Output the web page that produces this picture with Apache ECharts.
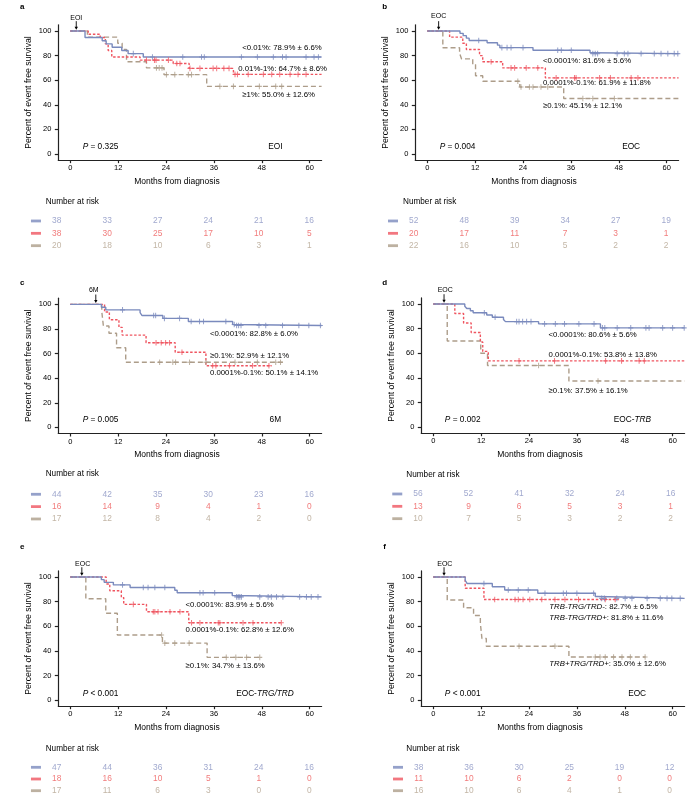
<!DOCTYPE html>
<html>
<head>
<meta charset="utf-8">
<script src="https://cdn.jsdelivr.net/npm/echarts@6/dist/echarts.min.js"></script>
<style>html,body{margin:0;padding:0;background:#fff}#main{width:697px;height:809px}</style>
</head>
<body>
<div id="main"></div>
<script>
// ---- data ----
var ticksX = [0, 12, 24, 36, 48, 60];
var ticksY = [0, 20, 40, 60, 80, 100];
var riskCols = ['0', '12', '24', '36', '48', '60'];

// a: EOI
var aBlue = [[0,100],[3.7,94.7],[8.0,92.1],[9.0,89.5],[10.5,86.8],[12.9,84.2],[14.5,81.6],[18.3,78.9],[63,78.9]];
var aRed = [[0,100],[4.5,97.4],[7.5,94.7],[8.8,89.5],[9.5,84.2],[10.4,78.9],[17.5,76.3],[25.8,73.6],[29.8,69.6],[40.9,64.7],[63,64.7]];
var aBrown = [[0,100],[4.3,95],[11.9,90],[13,85],[14.1,75],[19.1,70],[23.5,64.5],[34.2,55],[63,55]];
var aBlueCens = [15.8,20.6,28.2,32.9,33.6,42.9,46.9,50.9,53.2,54.1,59.1,61.1,62.2];
var aRedCens = [19.1,21.1,21.5,24.6,26.7,27.5,30,32.5,35.8,36.7,38.5,39.8,41.3,41.9,44.6,48.4,50.5,52.5,55.1,57.1,59.1];
var aBrownCens = [21.6,22.3,23.0,24.1,26.2,29.6,30.4,37.5,40.9,47.4,51.5,53];
var aRisk = [[38,33,27,24,21,16],[38,30,25,17,10,5],[20,18,10,6,3,1]];
var aLabels = ['<0.01%: 78.9% ± 6.6%', '0.01%-1%: 64.7% ± 8.6%', '≥1%: 55.0% ± 12.6%'];

// b: EOC
var bBlue = [[0,100],[8.2,98.1],[9.0,96.2],[9.8,94.2],[10.5,92.3],[15,90.4],[17.6,88.5],[18.2,86.5],[26.5,84.4],[40.8,82.3],[41.5,81.6],[63,81.6]];
var bRed = [[0,100],[5.6,95],[8.9,90],[9.8,85],[13.1,80],[13.9,75],[18.9,70],[29.6,61.9],[63,61.9]];
var bBrown = [[0,100],[3.9,86.4],[8.1,81.8],[8.6,77.3],[11.4,72.7],[12.1,63.6],[13.9,59.1],[23.2,54.5],[34.2,45.1],[63,45.1]];
var bBlueCens = [12.9,18.7,20,21,24,32.7,33.6,36.1,41.5,42.1,42.7,47.6,49.4,50.3,53.6,56.9,58.6,60.3,61.9,62.8];
var bRedCens = [16,21,21.9,24.8,27.7,32.3,36.9,37.3,43.2,45.9,51.1,52.8];
var bBrownCens = [22.7,23.5,25.6,26.5,28.5,30.2,39,41.5,46.9];
var bRisk = [[52,48,39,34,27,19],[20,17,11,7,3,1],[22,16,10,5,2,2]];
var bLabels = ['<0.0001%: 81.6% ± 5.6%', '0.0001%-0.1%: 61.9% ± 11.8%', '≥0.1%: 45.1% ± 12.1%'];

// c: 6M
var cBlue = [[0,100],[7.8,97.7],[8.9,95.5],[17.5,93.2],[18.0,90.9],[23.2,88.6],[29.6,86.1],[40.7,83.6],[41.2,82.8],[63,82.8]];
var cRed = [[0,100],[8.6,93.8],[9.8,87.5],[12.2,81.3],[13,75],[19,68.8],[26.3,61.1],[34,50.1],[50.5,50.1]];
var cBrown = [[0,100],[7.9,94.1],[8.3,82.4],[9.7,76.5],[11.6,64.7],[13.9,52.9],[53.5,52.9]];
var cBlueCens = [13.1,20.9,21.4,23.6,27.4,30.3,32.4,33.4,39,41.1,41.7,42.2,42.8,47.3,49,53.2,57.3,59.8,62.7];
var cRedCens = [21.5,22.8,23.9,24.9,28,35.7,36.5,39.9,45.7,49.8];
var cBrownCens = [22.4,25.7,26.4,29.9,34,41.3,46.9,51.5,52.7];
var cRisk = [[44,42,35,30,23,16],[16,14,9,4,1,0],[17,12,8,4,2,0]];
var cLabels = ['<0.0001%: 82.8% ± 6.0%', '≥0.1%: 52.9% ± 12.1%', '0.0001%-0.1%: 50.1% ± 14.1%'];

// d: EOC-TRB
var dBlue = [[0,100],[7.9,98.2],[8.4,96.4],[9.3,94.6],[10,92.9],[13.4,91.1],[14.8,89.3],[17.6,87.5],[18.1,85.7],[26.4,83.9],[41.9,80.6],[63,80.6]];
var dRed = [[0,100],[5.4,92.3],[7.6,84.6],[9.5,76.9],[11.8,69.2],[12.4,61.5],[13.8,53.8],[63,53.8]];
var dBrown = [[0,100],[3.5,70],[11.9,60],[13.6,50],[34,37.5],[63,37.5]];
var dBlueCens = [12.8,15.5,20.9,21.5,22.4,23.4,24.5,27.9,30.6,32.9,36.5,40.3,42.4,43,46.1,49.5,53.3,54.1,57.5,60,62.9];
var dRedCens = [21.5,30.4,43.2,47.2,51.6,52.9];
var dBrownCens = [26.4,41.3];
var dRisk = [[56,52,41,32,24,16],[13,9,6,5,3,1],[10,7,5,3,2,2]];
var dLabels = ['<0.0001%: 80.6% ± 5.6%', '0.0001%-0.1%: 53.8% ± 13.8%', '≥0.1%: 37.5% ± 16.1%'];

// e: EOC-TRG/TRD
var eBlue = [[0,100],[7.8,97.9],[8.5,95.7],[10.8,93.6],[15,91.5],[26.2,89.3],[26.8,87.2],[40.6,85],[41,83.9],[63,83.9]];
var eRed = [[0,100],[9.0,94.4],[9.9,88.9],[12.8,83.3],[13.4,77.8],[19.1,71.8],[29.7,62.8],[53.2,62.8]];
var eBrown = [[0,100],[3.9,82.4],[8.9,70.6],[11.8,52.9],[23.1,46.3],[34.3,34.7],[48,34.7]];
var eBlueCens = [13.1,18.3,19.5,21.2,23.7,32.5,33.3,36.2,41.7,42.1,42.5,42.9,47.5,49.6,50.4,51.7,53.3,57.5,59.2,60.4,62.1];
var eRedCens = [15.8,20.8,21.2,22,25,27.5,30.4,32.5,37.1,37.5,43.3,45.8,52.9];
var eBrownCens = [22.9,23.7,26.2,29.8,39.1,41.5,44.2,47.5];
var eRisk = [[47,44,36,31,24,16],[18,16,10,5,1,0],[17,11,6,3,0,0]];
var eLabels = ['<0.0001%: 83.9% ± 5.6%', '0.0001%-0.1%: 62.8% ± 12.6%', '≥0.1%: 34.7% ± 13.6%'];

// f: EOC, TRB / TRG/TRD
var fBlue = [[0,100],[8,97.4],[8.5,94.7],[14.8,92.1],[17.9,89.5],[26.2,86.8],[40.6,84.2],[41.2,82.7],[63,82.7]];
var fRed = [[0,100],[8,90.9],[12.7,81.8],[46.5,81.8]];
var fBrown = [[0,100],[3.5,81.3],[7.6,75],[10.1,68.8],[11.8,62.5],[12.2,50],[13.3,43.8],[34,35],[53.2,35]];
var fBlueCens = [12.7,18.8,21.3,23.8,28,32.6,33.4,36,40.2,42.2,42.9,46,48.1,49.8,53.6,56.9,58.6,59.8,61.9];
var fRedCens = [15.4,20.5,21.3,22.5,24.2,27.2,30.5,33,36.4,43.1,45.6];
var fBrownCens = [21.5,30.5,40.6,41.8,43.1,45.2,47.3,49.4,53.1];
var fRisk = [[38,36,30,25,19,12],[11,10,6,2,0,0],[16,10,6,4,1,0]];
var fLabels = ['{i|TRB-TRG/TRD-}: 82.7% ± 6.5%', '{i|TRB-TRG/TRD+}: 81.8% ± 11.6%', '{i|TRB+TRG/TRD+}: 35.0% ± 12.6%'];

var panels = [
  {id:'a', curves:[aBlue,aRed,aBrown], cens:[aBlueCens,aRedCens,aBrownCens], risk:aRisk, labels:aLabels, p:'= 0.325', tag:'EOI', mark:'EOI'},
  {id:'b', curves:[bBlue,bRed,bBrown], cens:[bBlueCens,bRedCens,bBrownCens], risk:bRisk, labels:bLabels, p:'= 0.004', tag:'EOC', mark:'EOC'},
  {id:'c', curves:[cBlue,cRed,cBrown], cens:[cBlueCens,cRedCens,cBrownCens], risk:cRisk, labels:cLabels, p:'= 0.005', tag:'6M', mark:'6M'},
  {id:'d', curves:[dBlue,dRed,dBrown], cens:[dBlueCens,dRedCens,dBrownCens], risk:dRisk, labels:dLabels, p:'= 0.002', tag:'EOC-{i|TRB}', mark:'EOC'},
  {id:'e', curves:[eBlue,eRed,eBrown], cens:[eBlueCens,eRedCens,eBrownCens], risk:eRisk, labels:eLabels, p:'< 0.001', tag:'EOC-{i|TRG/TRD}', mark:'EOC'},
  {id:'f', curves:[fBlue,fRed,fBrown], cens:[fBlueCens,fRedCens,fBrownCens], risk:fRisk, labels:fLabels, p:'< 0.001', tag:'EOC', mark:'EOC'}
];

// ---- layout (pixels / data coords for annotations) ----
var layout = [
  {grid:[58.3,24.85], risk:[31.4,214.8,303.1,37.05], nar:[45.7,202], letter:[22.3,6.7], mark:[1.5,1.5,110.8], ann:[[43.1,86.4],[42.1,68.9],[43.1,48]], p:[3.1,5.9], tag:[51.4,5.9]},
  {grid:[415.3,24.85], risk:[388.45,214.8,303,37.05], nar:[403,202], letter:[384.7,6.7], mark:[2.85,2.85,112], ann:[[29,75.9],[29,57.5],[29,39]], p:[3.1,5.9], tag:[51.1,5.9]},
  {grid:[58.3,298.2], risk:[31.4,488.1,303.1,37.05], nar:[45.7,474], letter:[22.3,282.7], mark:[6.4,5.9,111.6], ann:[[35,76.4],[35,58],[35,44.4]], p:[3.1,5.9], tag:[51.4,5.9]},
  {grid:[421.3,297.9], risk:[392.7,487.8,303.2,37.05], nar:[406.3,475], letter:[384.7,282.7], mark:[2.7,3.0,111.6], ann:[[28.9,74.8],[28.9,58.5],[28.9,29.5]], p:[2.9,5.9], tag:[49.9,5.9]},
  {grid:[58.3,570.9], risk:[31.4,761.45,303.1,35.1], nar:[45.7,748.3], letter:[22.3,546.7], mark:[2.9,3.1,110.6], ann:[[28.9,77.8],[28.9,56.9],[28.9,27.9]], p:[3.1,5.4], tag:[48.8,5.4]},
  {grid:[421.3,570.9], risk:[393.6,761.45,301.2,35.1], nar:[406.3,748.3], letter:[384.7,546.7], mark:[2.7,2.9,110.6], ann:[[29.1,75.9],[29.1,67.2],[29.1,29.8]], p:[2.9,5.4], tag:[51.1,5.4]}
];

var FONT = 'Liberation Sans, Arial, sans-serif';
var INK = '#000';
var lineCol = ['#7a8abd', '#ef5560', '#ad9d8a'];
var numCol = ['#8892c2', '#ee5a5a', '#b3a38f'];
var dashes = ['solid', [2.5, 1.8], [5, 3]];
var PLUS = 'path://M0.8,0H1.2V0.8H2V1.2H1.2V2H0.8V1.2H0V0.8H0.8Z';

function survAt(curve, t) {
  var s = curve[0][1];
  for (var i = 0; i < curve.length; i++) {
    if (curve[i][0] <= t) s = curve[i][1];
  }
  return s;
}

var grids = [], xAxes = [], yAxes = [], series = [];
var axisLineStyle = {color: '#222', width: 1.2};

panels.forEach(function (pn, p) {
  var L = layout[p];
  grids[p] = {left: L.grid[0], top: L.grid[1], width: 263.3, height: 135.3};
  grids[6 + p] = {left: L.risk[0], top: L.risk[1], width: L.risk[2], height: L.risk[3]};

  xAxes[p] = {
    type: 'value', gridIndex: p, min: -3, max: 63,
    name: 'Months from diagnosis', nameLocation: 'middle', nameGap: 17,
    nameTextStyle: {fontSize: 8.5, color: INK, fontFamily: FONT, padding: [0, 26, 0, 0]},
    axisLine: {show: true, onZero: false, lineStyle: axisLineStyle},
    axisTick: {show: true, length: 3, customValues: ticksX, lineStyle: axisLineStyle},
    axisLabel: {customValues: ticksX, fontSize: 7.5, margin: 4, color: INK, fontFamily: FONT},
    splitLine: {show: false}
  };
  yAxes[p] = {
    type: 'value', gridIndex: p, min: -5, max: 105,
    name: 'Percent of event free survival', nameLocation: 'middle', nameGap: 25,
    nameTextStyle: {fontSize: 8.7, color: INK, fontFamily: FONT},
    axisLine: {show: true, onZero: false, lineStyle: axisLineStyle},
    axisTick: {show: true, length: 3.5, customValues: ticksY, lineStyle: axisLineStyle},
    axisLabel: {customValues: ticksY, fontSize: 7.5, margin: 7, color: INK, fontFamily: FONT},
    splitLine: {show: false}
  };
  xAxes[6 + p] = {type: 'category', gridIndex: 6 + p, data: riskCols, show: false};
  yAxes[6 + p] = {type: 'category', gridIndex: 6 + p, data: ['0', '1', '2'], inverse: true, show: false};

  // curves: brown below, blue on top
  [2, 1, 0].forEach(function (k) {
    var curve = pn.curves[k];
    series.push({
      type: 'line', xAxisIndex: p, yAxisIndex: p, data: curve, step: 'end',
      symbol: 'none', z: 3 - k,
      lineStyle: {color: lineCol[k], width: 1.4, type: dashes[k]}
    });
    series.push({
      type: 'scatter', xAxisIndex: p, yAxisIndex: p, z: 4 - k,
      data: pn.cens[k].map(function (t) { return [t, survAt(curve, t)]; }),
      symbol: PLUS, symbolSize: [5, 5.6], itemStyle: {color: lineCol[k]}
    });
  });

  // number at risk table
  pn.risk.forEach(function (row, r) {
    series.push({
      type: 'scatter', xAxisIndex: 6 + p, yAxisIndex: 6 + p,
      data: row.map(function (v, i) { return [i, r, v]; }),
      symbolSize: 1, itemStyle: {color: 'transparent'},
      label: {show: true, position: 'inside', formatter: function (d) { return d.value[2]; },
              color: numCol[r], fontSize: 8.4, fontFamily: FONT}
    });
    series.push({
      type: 'scatter', xAxisIndex: 6 + p, yAxisIndex: 6 + p,
      data: [[0, r]], symbol: 'rect', symbolSize: [10, 2.8], symbolOffset: [-20.7, 0],
      itemStyle: {color: lineCol[r]}
    });
  });
});

var chart = echarts.init(document.getElementById('main'));
chart.setOption({
  animation: false,
  backgroundColor: '#fff',
  textStyle: {fontFamily: FONT},
  grid: grids, xAxis: xAxes, yAxis: yAxes, series: series
});

// annotations placed through the grid coordinate systems
var ital = {i: {fontStyle: 'italic', fontFamily: FONT, fontSize: 7.8, fill: INK}};
var italBig = {i: {fontStyle: 'italic', fontFamily: FONT, fontSize: 8.3, fill: INK}};
var graphics = [];
panels.forEach(function (pn, p) {
  var L = layout[p];
  var px = function (x, y) { return chart.convertToPixel({gridIndex: p}, [x, y]); };

  graphics.push({type: 'text', x: L.letter[0], y: L.letter[1],
    style: {text: pn.id, fontSize: 8, fontWeight: 'bold', fontFamily: FONT, fill: INK, align: 'center', verticalAlign: 'middle'}});
  graphics.push({type: 'text', x: L.nar[0], y: L.nar[1],
    style: {text: 'Number at risk', fontSize: 8.2, fontFamily: FONT, fill: INK, align: 'left', verticalAlign: 'middle'}});

  pn.labels.forEach(function (t, k) {
    var q = px(L.ann[k][0], L.ann[k][1]);
    graphics.push({type: 'text', x: q[0], y: q[1],
      style: {text: t, rich: ital, fontSize: 7.8, fontFamily: FONT, fill: INK, align: 'left', verticalAlign: 'middle'}});
  });

  var pp = px(L.p[0], L.p[1]);
  graphics.push({type: 'text', x: pp[0], y: pp[1],
    style: {text: '{i|P} ' + pn.p, rich: italBig, fontSize: 8.3, fontFamily: FONT, fill: INK, align: 'left', verticalAlign: 'middle'}});
  var tg = px(L.tag[0], L.tag[1]);
  graphics.push({type: 'text', x: tg[0], y: tg[1],
    style: {text: pn.tag, rich: italBig, fontSize: 8.3, fontFamily: FONT, fill: INK, align: 'center', verticalAlign: 'middle'}});

  // time-point arrow
  var lab = px(L.mark[1], L.mark[2]);
  var a0 = px(L.mark[0], 108);
  var a1 = px(L.mark[0], 101);
  graphics.push({type: 'text', x: lab[0], y: lab[1],
    style: {text: pn.mark, fontSize: 7, fontFamily: FONT, fill: INK, align: 'center', verticalAlign: 'middle'}});
  graphics.push({type: 'line', shape: {x1: a0[0], y1: a0[1], x2: a1[0], y2: a1[1] - 2},
    style: {stroke: INK, lineWidth: 0.9}});
  graphics.push({type: 'polygon', shape: {points: [[a1[0] - 1.7, a1[1] - 3], [a1[0] + 1.7, a1[1] - 3], [a1[0], a1[1]]]},
    style: {fill: INK}});
});
chart.setOption({graphic: graphics});
</script>
</body>
</html>
